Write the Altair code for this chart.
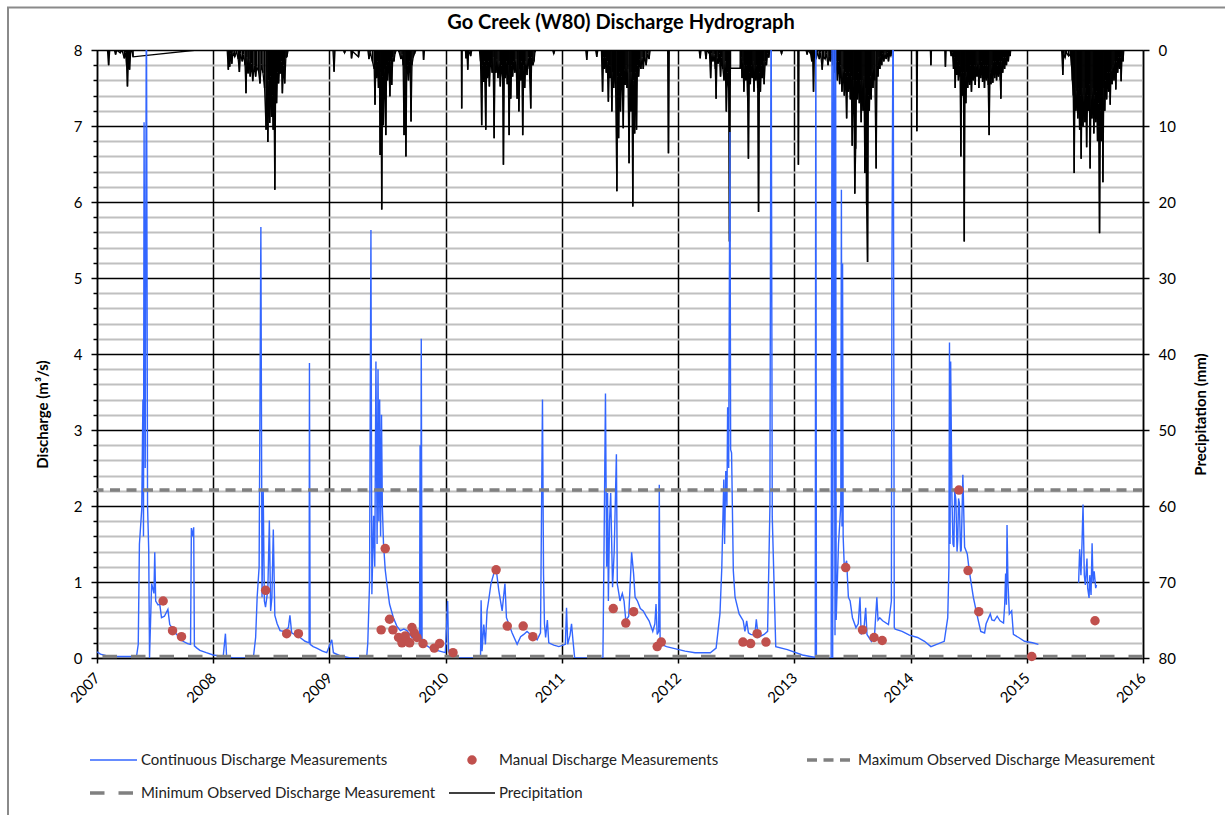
import altair as alt
import pandas as pd

# ---------------------------------------------------------------------------
# Go Creek (W80): continuous logger discharge (decimal year, m3/s).
# Values above 8 run off the top of the discharge axis and are clipped.
# ---------------------------------------------------------------------------
flow_2007 = [
    (2007.000, 0.08), (2007.030, 0.05), (2007.080, 0.03), (2007.150, 0.02), (2007.250, 0.02),
    (2007.340, 0.02), (2007.355, 0.18), (2007.365, 1.50), (2007.385, 1.96), (2007.395, 3.40),
    (2007.400, 1.60), (2007.405, 7.05), (2007.415, 2.50), (2007.425, 9.00), (2007.435, 2.00),
    (2007.445, 1.42), (2007.452, 0.00), (2007.470, 0.98), (2007.490, 0.85), (2007.497, 1.39),
    (2007.505, 0.75), (2007.525, 0.70), (2007.540, 0.71), (2007.555, 0.53), (2007.580, 0.55),
    (2007.610, 0.64), (2007.626, 0.44), (2007.655, 0.38), (2007.684, 0.31), (2007.710, 0.28),
    (2007.740, 0.22), (2007.780, 0.19), (2007.805, 0.18), (2007.812, 1.71), (2007.822, 1.60),
    (2007.832, 1.72), (2007.838, 0.16), (2007.860, 0.13), (2007.885, 0.10), (2007.940, 0.07),
]
flow_2008 = [
    (2008.000, 0.04), (2008.086, 0.02), (2008.105, 0.32), (2008.115, 0.02), (2008.170, 0.00),
    (2008.345, 0.00), (2008.365, 0.27), (2008.378, 0.80), (2008.395, 1.20), (2008.410, 5.67),
    (2008.420, 0.80), (2008.430, 2.22), (2008.440, 0.75), (2008.450, 0.67), (2008.470, 0.90),
    (2008.483, 1.81), (2008.494, 0.62), (2008.505, 0.80), (2008.517, 1.69), (2008.530, 0.56),
    (2008.550, 0.45), (2008.575, 0.36), (2008.610, 0.35), (2008.647, 0.40), (2008.660, 0.56),
    (2008.675, 0.33), (2008.710, 0.30), (2008.747, 0.27), (2008.790, 0.22), (2008.825, 0.20),
    (2008.828, 3.88), (2008.834, 0.18), (2008.860, 0.15), (2008.890, 0.13), (2008.940, 0.09),
    (2008.977, 0.07),
]
flow_2009 = [
    (2009.020, 0.24), (2009.034, 0.07), (2009.090, 0.03), (2009.180, 0.00), (2009.320, 0.00),
    (2009.330, 0.20), (2009.345, 0.98), (2009.357, 5.63), (2009.365, 0.84), (2009.380, 1.87),
    (2009.390, 1.20), (2009.400, 3.90), (2009.410, 1.50), (2009.418, 3.80), (2009.425, 1.80),
    (2009.432, 3.40), (2009.440, 1.60), (2009.448, 3.20), (2009.455, 2.00), (2009.465, 1.51),
    (2009.480, 1.16), (2009.494, 0.98), (2009.517, 0.71), (2009.550, 0.53), (2009.580, 0.42),
    (2009.610, 0.36), (2009.640, 0.38), (2009.667, 0.36), (2009.710, 0.27), (2009.753, 0.24),
    (2009.775, 0.23), (2009.780, 2.80), (2009.785, 0.25), (2009.790, 4.20), (2009.797, 0.22),
    (2009.830, 0.17), (2009.868, 0.13), (2009.925, 0.10), (2009.997, 0.07),
]
flow_2010 = [
    (2010.017, 0.75), (2010.025, 0.09), (2010.070, 0.00), (2010.300, 0.00), (2010.305, 0.76),
    (2010.313, 0.09), (2010.328, 0.44), (2010.342, 0.18), (2010.356, 0.62), (2010.370, 0.76),
    (2010.390, 0.98), (2010.414, 1.11), (2010.434, 1.18), (2010.457, 0.89), (2010.486, 0.62),
    (2010.510, 0.98), (2010.523, 0.53), (2010.550, 0.42), (2010.572, 0.33), (2010.615, 0.18),
    (2010.645, 0.28), (2010.672, 0.31), (2010.700, 0.35), (2010.730, 0.31), (2010.760, 0.28),
    (2010.787, 0.24), (2010.816, 0.33), (2010.833, 3.40), (2010.842, 1.11), (2010.850, 0.45),
    (2010.860, 0.27), (2010.875, 0.50), (2010.887, 0.20), (2010.930, 0.17), (2010.974, 0.15),
]
flow_2011 = [
    (2011.030, 0.18), (2011.040, 0.66), (2011.050, 0.18), (2011.070, 0.30), (2011.083, 0.45),
    (2011.096, 0.22), (2011.110, 0.00), (2011.353, 0.00), (2011.363, 1.50), (2011.375, 3.48),
    (2011.385, 1.20), (2011.393, 2.17), (2011.400, 0.75), (2011.410, 1.80), (2011.420, 2.17),
    (2011.436, 0.93), (2011.450, 1.40), (2011.469, 2.68), (2011.477, 0.97), (2011.490, 0.85),
    (2011.500, 0.75), (2011.520, 0.85), (2011.535, 0.75), (2011.550, 0.49), (2011.575, 0.55),
    (2011.600, 1.39), (2011.617, 1.11), (2011.630, 0.80), (2011.650, 0.75), (2011.675, 0.65),
    (2011.700, 0.62), (2011.725, 0.55), (2011.750, 0.49), (2011.782, 0.35), (2011.800, 0.45),
    (2011.810, 0.71), (2011.820, 0.31), (2011.833, 0.35), (2011.838, 2.28), (2011.845, 0.25),
    (2011.855, 0.18), (2011.900, 0.15), (2011.980, 0.12),
]
flow_2012 = [
    (2012.060, 0.09), (2012.145, 0.07), (2012.277, 0.07), (2012.327, 0.13), (2012.360, 0.58),
    (2012.376, 1.19), (2012.393, 2.35), (2012.400, 1.50), (2012.410, 2.46), (2012.420, 2.00),
    (2012.426, 3.30), (2012.435, 2.50), (2012.446, 6.92), (2012.452, 2.74), (2012.460, 2.70),
    (2012.475, 1.15), (2012.490, 0.80), (2012.525, 0.58), (2012.560, 0.49), (2012.575, 0.35),
    (2012.590, 0.49), (2012.605, 0.33), (2012.624, 0.31), (2012.660, 0.30), (2012.673, 0.51),
    (2012.690, 0.27), (2012.740, 0.31), (2012.770, 0.35), (2012.790, 1.99), (2012.800, 9.00),
    (2012.810, 1.86), (2012.840, 0.15), (2012.940, 0.11),
]
flow_2013 = [
    (2013.070, 0.04), (2013.170, 0.01), (2013.180, 0.00), (2013.185, 9.00), (2013.190, 0.00),
    (2013.317, 0.00), (2013.325, 9.00), (2013.330, 0.00), (2013.340, 9.00), (2013.350, 0.30),
    (2013.355, 9.00), (2013.360, 0.50), (2013.380, 1.50), (2013.400, 2.01), (2013.405, 6.16),
    (2013.410, 1.73), (2013.415, 5.19), (2013.420, 1.60), (2013.430, 1.19), (2013.450, 1.28),
    (2013.465, 0.80), (2013.480, 0.75), (2013.500, 0.53), (2013.530, 0.40), (2013.550, 0.45),
    (2013.565, 0.80), (2013.575, 0.31), (2013.600, 0.40), (2013.614, 0.66), (2013.625, 0.31),
    (2013.663, 0.22), (2013.690, 0.30), (2013.710, 0.80), (2013.720, 0.50), (2013.735, 0.53),
    (2013.760, 0.49), (2013.810, 0.44), (2013.835, 0.75), (2013.840, 5.20), (2013.850, 9.00),
    (2013.860, 0.40), (2013.868, 0.38), (2013.927, 0.35), (2013.990, 0.30),
]
flow_2014 = [
    (2014.060, 0.27), (2014.120, 0.22), (2014.175, 0.15), (2014.225, 0.18), (2014.290, 0.22),
    (2014.320, 0.53), (2014.330, 1.19), (2014.335, 4.15), (2014.340, 1.50), (2014.345, 3.90),
    (2014.356, 2.12), (2014.365, 1.50), (2014.373, 1.46), (2014.380, 2.20), (2014.390, 2.08),
    (2014.400, 1.40), (2014.406, 1.55), (2014.413, 2.10), (2014.420, 2.04), (2014.430, 1.40),
    (2014.436, 1.42), (2014.450, 2.41), (2014.465, 1.46), (2014.488, 1.37), (2014.505, 1.15),
    (2014.540, 0.80), (2014.570, 0.58), (2014.604, 0.35), (2014.637, 0.33), (2014.650, 0.45),
    (2014.686, 0.58), (2014.700, 0.50), (2014.720, 0.49), (2014.745, 0.55), (2014.770, 0.49),
    (2014.800, 0.46), (2014.810, 0.70), (2014.818, 1.11), (2014.825, 0.70), (2014.830, 1.75),
    (2014.838, 1.00), (2014.850, 0.58), (2014.870, 0.62), (2014.885, 0.31), (2014.930, 0.27),
    (2014.980, 0.22), (2015.050, 0.20), (2015.100, 0.18),
]
# logger record after the early-2015 gap
flow_2015 = [
    (2015.446, 0.99), (2015.455, 1.43), (2015.466, 1.09), (2015.475, 1.50), (2015.484, 2.02),
    (2015.495, 1.09), (2015.504, 0.96), (2015.518, 1.31), (2015.524, 0.92), (2015.536, 0.79),
    (2015.542, 1.09), (2015.553, 0.83), (2015.562, 1.51), (2015.570, 0.99), (2015.580, 1.14),
    (2015.593, 0.92), (2015.600, 0.96),
]

# Manual (spot) discharge measurements
manual_year = [
    2007.569, 2007.650, 2007.727, 2008.451, 2008.632, 2008.733, 2009.445, 2009.480, 2009.517,
    2009.546, 2009.595, 2009.624, 2009.652, 2009.672, 2009.690, 2009.710, 2009.730, 2009.753,
    2009.805, 2009.902, 2009.948, 2010.063, 2010.434, 2010.530, 2010.667, 2010.750, 2011.442,
    2011.550, 2011.617, 2011.820, 2011.855, 2012.558, 2012.624, 2012.680, 2012.756, 2013.442,
    2013.587, 2013.686, 2013.756, 2014.416, 2014.495, 2014.587, 2015.043, 2015.587,
]
manual_q = [
    0.75, 0.36, 0.28, 0.89, 0.32, 0.32, 0.37, 1.44, 0.51,
    0.37, 0.27, 0.20, 0.29, 0.22, 0.20, 0.40, 0.33, 0.27,
    0.19, 0.13, 0.19, 0.07, 1.16, 0.42, 0.42, 0.28, 0.65,
    0.46, 0.61, 0.15, 0.21, 0.21, 0.19, 0.32, 0.21, 1.19,
    0.37, 0.27, 0.23, 2.21, 1.15, 0.61, 0.02, 0.49,
]
max_observed = 2.21
min_observed = 0.02

# Daily precipitation (decimal year, mm) on the reversed right-hand axis
rain_2007 = [
    (2007.000, 0), (2007.090, 0), (2007.100, 2.0), (2007.110, 0), (2007.150, 0), (2007.160, 0.6),
    (2007.170, 0), (2007.200, 0.4), (2007.215, 0), (2007.235, 1.1), (2007.245, 0.3), (2007.255, 2.0),
    (2007.262, 4.8), (2007.270, 1.2), (2007.280, 2.6), (2007.290, 0.3), (2007.300, 0), (2007.310, 0.9),
    (2007.860, 0), (2008.120, 0),
]
rain_2008 = [
    (2008.130, 2.6), (2008.135, 0.4), (2008.142, 2.2), (2008.150, 0.5), (2008.160, 1.8), (2008.170, 0.3),
    (2008.185, 0.9), (2008.200, 0.2), (2008.215, 1.2), (2008.225, 2.9), (2008.235, 0.5), (2008.250, 1.5),
    (2008.260, 0.6), (2008.274, 2.0), (2008.282, 5.7), (2008.290, 1.0), (2008.300, 3.1), (2008.308, 1.2),
    (2008.318, 3.5), (2008.328, 1.8), (2008.340, 4.1), (2008.352, 2.0), (2008.365, 3.5), (2008.375, 2.2),
    (2008.390, 2.8), (2008.402, 4.4), (2008.414, 1.9), (2008.428, 3.0), (2008.442, 5.0), (2008.455, 10.5),
    (2008.462, 3.0), (2008.470, 12.1), (2008.478, 4.0), (2008.486, 9.6), (2008.494, 3.5), (2008.502, 8.8),
    (2008.510, 6.0), (2008.516, 10.5), (2008.522, 4.0), (2008.530, 18.4), (2008.537, 5.0), (2008.545, 7.0),
    (2008.553, 3.0), (2008.562, 4.4), (2008.570, 2.5), (2008.578, 3.1), (2008.586, 1.5), (2008.595, 5.7),
    (2008.605, 2.0), (2008.615, 4.4), (2008.625, 1.0), (2008.634, 0.9), (2008.645, 0), (2009.030, 0),
]
rain_2009 = [
    (2009.040, 2.85), (2009.048, 0), (2009.120, 0), (2009.130, 0.4), (2009.140, 0), (2009.185, 0),
    (2009.190, 1.1), (2009.200, 0.2), (2009.250, 0.9), (2009.260, 0), (2009.330, 0), (2009.340, 1.2),
    (2009.350, 0.3), (2009.370, 1.5), (2009.385, 2.5), (2009.392, 7.2), (2009.399, 2.0), (2009.406, 3.7),
    (2009.414, 1.5), (2009.422, 5.0), (2009.430, 2.5), (2009.436, 13.8), (2009.443, 3.0), (2009.450, 21.0),
    (2009.457, 3.5), (2009.464, 9.9), (2009.471, 2.5), (2009.478, 6.0), (2009.485, 11.2), (2009.492, 2.0),
    (2009.500, 4.0), (2009.507, 1.5), (2009.514, 3.0), (2009.520, 6.1), (2009.528, 1.5), (2009.536, 4.6),
    (2009.545, 1.0), (2009.555, 1.5), (2009.564, 0.5), (2009.575, 0), (2009.590, 0), (2009.600, 0.3),
    (2009.615, 1.2), (2009.625, 0.6), (2009.634, 2.0), (2009.642, 11.2), (2009.650, 2.5), (2009.658, 14.0),
    (2009.665, 3.0), (2009.672, 2.0), (2009.680, 4.0), (2009.688, 1.5), (2009.695, 3.0), (2009.702, 9.4),
    (2009.710, 2.0), (2009.720, 1.0), (2009.732, 0.5), (2009.745, 0), (2009.805, 0), (2009.810, 1.3),
    (2009.818, 0), (2010.120, 0),
]
rain_2010 = [
    (2010.135, 0), (2010.138, 7.7), (2010.142, 0), (2010.170, 0), (2010.175, 1.1), (2010.182, 0),
    (2010.190, 2.6), (2010.198, 0), (2010.215, 0.8), (2010.225, 0), (2010.290, 0), (2010.300, 1.5),
    (2010.310, 9.9), (2010.318, 2.0), (2010.326, 4.2), (2010.334, 1.5), (2010.345, 10.5), (2010.352, 2.0),
    (2010.360, 3.7), (2010.368, 1.5), (2010.376, 4.8), (2010.384, 2.0), (2010.392, 1.8), (2010.400, 3.0),
    (2010.408, 1.0), (2010.417, 11.6), (2010.425, 2.0), (2010.433, 3.0), (2010.441, 1.2), (2010.450, 3.7),
    (2010.460, 1.5), (2010.470, 4.8), (2010.480, 2.0), (2010.490, 3.5), (2010.497, 15.1), (2010.505, 2.5),
    (2010.513, 3.7), (2010.521, 1.5), (2010.530, 4.5), (2010.538, 2.0), (2010.546, 11.2), (2010.553, 3.0),
    (2010.560, 6.4), (2010.568, 2.0), (2010.576, 3.5), (2010.585, 1.5), (2010.595, 3.0), (2010.605, 1.2),
    (2010.615, 6.4), (2010.622, 2.0), (2010.630, 8.1), (2010.638, 2.5), (2010.646, 4.0), (2010.655, 1.5),
    (2010.663, 11.2), (2010.672, 2.0), (2010.680, 5.0), (2010.690, 1.5), (2010.700, 3.3), (2010.710, 1.0),
    (2010.720, 2.5), (2010.732, 7.7), (2010.740, 1.0), (2010.750, 2.0), (2010.760, 1.5), (2010.768, 0.3),
    (2010.775, 0), (2010.920, 0), (2010.930, 0.5), (2010.940, 0), (2011.205, 0),
]
rain_2011 = [
    (2011.214, 1.3), (2011.222, 0), (2011.290, 0), (2011.300, 0.9), (2011.310, 0), (2011.340, 0),
    (2011.350, 5.5), (2011.358, 1.0), (2011.366, 2.5), (2011.374, 1.0), (2011.382, 3.0), (2011.390, 1.5),
    (2011.400, 6.8), (2011.408, 2.0), (2011.415, 3.7), (2011.422, 2.0), (2011.430, 8.1), (2011.438, 3.0),
    (2011.446, 5.0), (2011.454, 2.5), (2011.462, 4.5), (2011.473, 18.6), (2011.480, 3.5), (2011.488, 11.6),
    (2011.496, 3.0), (2011.504, 8.1), (2011.512, 3.5), (2011.520, 5.0), (2011.528, 10.3), (2011.536, 2.5),
    (2011.544, 4.6), (2011.552, 2.0), (2011.560, 5.0), (2011.568, 2.5), (2011.578, 14.9), (2011.586, 3.0),
    (2011.594, 8.1), (2011.602, 3.0), (2011.610, 20.6), (2011.618, 4.0), (2011.626, 11.0), (2011.634, 3.0),
    (2011.642, 10.5), (2011.650, 2.0), (2011.660, 3.5), (2011.670, 1.2), (2011.680, 2.5), (2011.690, 1.0),
    (2011.700, 2.5), (2011.712, 0.8), (2011.725, 2.0), (2011.738, 0.5), (2011.750, 1.2), (2011.760, 0),
    (2011.910, 0), (2011.917, 13.6), (2011.924, 0), (2012.180, 0),
]
rain_2012 = [
    (2012.190, 1.1), (2012.198, 0), (2012.230, 0), (2012.240, 1.2), (2012.250, 0), (2012.270, 0.5),
    (2012.280, 3.7), (2012.290, 0.5), (2012.300, 1.5), (2012.310, 0.6), (2012.320, 2.5), (2012.327, 6.4),
    (2012.335, 1.0), (2012.345, 1.8), (2012.355, 0.5), (2012.365, 3.5), (2012.375, 1.0), (2012.385, 2.5),
    (2012.395, 4.0), (2012.405, 1.5), (2012.415, 8.1), (2012.425, 3.0), (2012.435, 5.0), (2012.442, 25.2),
    (2012.450, 2.4), (2012.535, 2.4), (2012.543, 1.0), (2012.550, 3.7), (2012.558, 1.5), (2012.566, 5.5),
    (2012.574, 2.0), (2012.582, 4.0), (2012.590, 2.0), (2012.598, 6.0), (2012.605, 14.3), (2012.613, 3.0),
    (2012.621, 4.5), (2012.629, 2.0), (2012.637, 3.7), (2012.645, 1.5), (2012.653, 5.5), (2012.661, 2.0),
    (2012.669, 4.0), (2012.677, 2.0), (2012.685, 5.0), (2012.692, 21.3), (2012.700, 3.0), (2012.708, 5.5),
    (2012.716, 2.0), (2012.724, 3.7), (2012.732, 1.5), (2012.740, 4.5), (2012.750, 1.5), (2012.760, 2.0),
    (2012.770, 0.5), (2012.780, 1.0), (2012.790, 0), (2012.880, 0), (2012.890, 0.5), (2012.900, 0),
    (2013.030, 0), (2013.035, 15.1), (2013.040, 0),
]
rain_2013 = [
    (2013.100, 0), (2013.110, 0.6), (2013.120, 0), (2013.140, 0.5), (2013.150, 1.5), (2013.158, 0.8),
    (2013.165, 5.5), (2013.172, 1.0), (2013.180, 0.5), (2013.190, 1.0), (2013.200, 0.3), (2013.215, 1.2),
    (2013.225, 0.3), (2013.240, 2.6), (2013.250, 0.8), (2013.265, 1.2), (2013.275, 0.5), (2013.290, 2.0),
    (2013.300, 0.8), (2013.310, 1.5), (2013.320, 0.5), (2013.330, 2.0), (2013.340, 1.0), (2013.350, 3.0),
    (2013.360, 1.5), (2013.370, 4.0), (2013.380, 1.5), (2013.390, 4.5), (2013.400, 2.0), (2013.410, 5.5),
    (2013.420, 2.5), (2013.430, 6.0), (2013.440, 3.0), (2013.450, 9.0), (2013.458, 3.5), (2013.466, 5.5),
    (2013.474, 3.0), (2013.482, 6.5), (2013.490, 3.5), (2013.498, 12.6), (2013.506, 4.0), (2013.513, 8.0),
    (2013.520, 18.9), (2013.528, 13.0), (2013.535, 4.0), (2013.543, 6.5), (2013.551, 3.0), (2013.559, 7.0),
    (2013.567, 4.0), (2013.575, 9.5), (2013.583, 4.0), (2013.591, 8.0), (2013.599, 3.5), (2013.607, 16.2),
    (2013.615, 5.0), (2013.622, 20.4), (2013.630, 27.9), (2013.637, 6.0), (2013.645, 8.0), (2013.653, 3.5),
    (2013.661, 6.5), (2013.669, 2.5), (2013.677, 5.0), (2013.685, 2.0), (2013.693, 4.0), (2013.704, 15.6),
    (2013.712, 2.0), (2013.720, 3.5), (2013.728, 1.0), (2013.736, 2.5), (2013.744, 0.8), (2013.752, 2.0),
    (2013.760, 0.5), (2013.770, 1.5), (2013.780, 0.5), (2013.790, 1.2), (2013.800, 0.3), (2013.810, 1.5),
    (2013.820, 0.5), (2013.830, 0.8), (2013.840, 0), (2014.050, 0), (2014.054, 10.7), (2014.060, 0),
]
rain_2014 = [
    (2014.170, 0), (2014.175, 2.0), (2014.180, 0), (2014.295, 0), (2014.300, 2.2), (2014.306, 0),
    (2014.340, 0), (2014.350, 0.8), (2014.360, 0.3), (2014.370, 2.5), (2014.377, 1.0), (2014.384, 5.0),
    (2014.391, 1.5), (2014.398, 3.3), (2014.405, 1.5), (2014.412, 4.0), (2014.419, 2.0), (2014.426, 3.5),
    (2014.433, 14.0), (2014.440, 3.0), (2014.447, 6.0), (2014.455, 3.0), (2014.462, 25.2), (2014.469, 3.5),
    (2014.476, 7.0), (2014.484, 3.0), (2014.492, 5.0), (2014.500, 2.5), (2014.508, 4.6), (2014.516, 2.0),
    (2014.524, 5.5), (2014.532, 2.5), (2014.540, 4.0), (2014.548, 2.0), (2014.556, 4.6), (2014.564, 2.0),
    (2014.572, 3.5), (2014.580, 1.5), (2014.588, 5.0), (2014.596, 2.0), (2014.604, 3.7), (2014.612, 1.5),
    (2014.620, 4.2), (2014.628, 2.0), (2014.636, 5.0), (2014.644, 2.0), (2014.652, 4.0), (2014.660, 2.0),
    (2014.668, 4.6), (2014.676, 11.2), (2014.684, 3.0), (2014.692, 4.5), (2014.700, 2.0), (2014.708, 4.3),
    (2014.716, 1.5), (2014.724, 3.7), (2014.732, 1.5), (2014.740, 4.0), (2014.748, 2.0), (2014.756, 3.5),
    (2014.764, 1.5), (2014.772, 4.0), (2014.777, 6.4), (2014.785, 1.5), (2014.793, 3.0), (2014.801, 1.0),
    (2014.809, 2.5), (2014.817, 1.0), (2014.825, 2.0), (2014.833, 0.8), (2014.841, 1.5), (2014.849, 0.5),
    (2014.857, 0.8), (2014.862, 0), (2015.300, 0),
]
rain_2015 = [
    (2015.310, 3.3), (2015.318, 0.5), (2015.330, 1.0), (2015.340, 0.3), (2015.360, 0.8), (2015.375, 0.5),
    (2015.385, 2.0), (2015.392, 4.0), (2015.400, 6.0), (2015.408, 16.2), (2015.415, 5.0), (2015.423, 8.0),
    (2015.431, 5.5), (2015.439, 9.0), (2015.447, 5.0), (2015.455, 10.5), (2015.462, 6.0), (2015.468, 14.3),
    (2015.476, 5.0), (2015.484, 10.0), (2015.492, 6.0), (2015.500, 9.5), (2015.508, 5.0), (2015.515, 12.8),
    (2015.523, 6.0), (2015.531, 8.0), (2015.538, 4.5), (2015.545, 15.6), (2015.553, 6.0), (2015.561, 9.0),
    (2015.569, 5.0), (2015.577, 11.0), (2015.585, 6.0), (2015.593, 9.5), (2015.601, 5.5), (2015.609, 12.0),
    (2015.617, 7.0), (2015.626, 24.1), (2015.634, 8.0), (2015.642, 12.0), (2015.650, 6.0), (2015.655, 17.4),
    (2015.663, 5.0), (2015.671, 8.0), (2015.679, 4.0), (2015.687, 6.5), (2015.695, 3.0), (2015.703, 5.5),
    (2015.711, 3.0), (2015.718, 7.2), (2015.726, 2.5), (2015.734, 4.5), (2015.742, 2.0), (2015.750, 4.0),
    (2015.758, 1.5), (2015.766, 5.2), (2015.774, 1.5), (2015.782, 3.0), (2015.790, 1.0), (2015.798, 2.5),
    (2015.806, 1.0), (2015.812, 4.1), (2015.820, 0.8), (2015.828, 1.5), (2015.835, 0),
]

year_ticks = list(range(2007, 2017))
q_ticks = [round(i * 0.2, 1) for i in range(41)]
rain_ticks = list(range(0, 81, 10))

# ---------------------------------------------------------------------------
# Tables
# ---------------------------------------------------------------------------
main_record = (flow_2007 + flow_2008 + flow_2009 + flow_2010 + flow_2011
               + flow_2012 + flow_2013 + flow_2014)
flow = pd.concat([
    pd.DataFrame(main_record, columns=["t", "q"]).assign(seg="a"),
    pd.DataFrame(flow_2015, columns=["t", "q"]).assign(seg="b"),
])
manual = pd.DataFrame({"t": manual_year, "q": manual_q})
limits = pd.DataFrame({"q": [max_observed, min_observed], "kind": ["max", "min"]})
rain = pd.DataFrame(rain_2007 + rain_2008 + rain_2009 + rain_2010 + rain_2011
                    + rain_2012 + rain_2013 + rain_2014 + rain_2015, columns=["t", "mm"])
one = pd.DataFrame({"k": [0]})

FONT = "Lato"
BLUE = "#3366ff"
RED = "#c0504d"
GREY = "#808080"
W, H = 1046, 608

major = "abs(datum.value - round(datum.value)) < 0.001"

x_enc = alt.X(
    "t:Q",
    scale=alt.Scale(domain=[2007, 2016], nice=False, zero=False),
    axis=alt.Axis(
        values=year_ticks, format="d", title=None,
        labelAngle=315, labelAlign="right", labelBaseline="middle",
        labelFont=FONT, labelFontSize=15, labelColor="black", labelPadding=12,
        labelOverlap=False, labelFlush=False,
        tickSize=5, tickColor="black", tickWidth=1.5,
        domainColor="black", domainWidth=1.5,
        grid=True, gridColor="black", gridWidth=1.5,
    ),
)

q_enc = alt.Y(
    "q:Q",
    scale=alt.Scale(domain=[0, 8], nice=False),
    axis=alt.Axis(
        values=q_ticks, title="Discharge (m³/s)",
        titleFont=FONT, titleFontSize=15, titleFontWeight="bold", titleColor="black",
        titleAngle=270, titleAlign="center", titleBaseline="middle",
        titleX=-55, titleY=364,
        labelExpr=f"{major} ? format(datum.value, 'd') : ''",
        labelFont=FONT, labelFontSize=15, labelColor="black", labelPadding=9,
        labelOverlap=False, labelFlush=False,
        tickColor="black", tickWidth=1.5,
        tickSize={"condition": {"test": major, "value": 6}, "value": 4},
        domainColor="black", domainWidth=1.5,
        grid=True,
        gridColor={"condition": {"test": major, "value": "black"}, "value": "#c0c0c0"},
        gridWidth={"condition": {"test": major, "value": 1.5}, "value": 2},
    ),
)

rain_enc = alt.Y(
    "mm:Q",
    scale=alt.Scale(domain=[0, 80], reverse=True, nice=False),
    axis=alt.Axis(
        orient="right", values=rain_ticks, title="Precipitation (mm)",
        titleFont=FONT, titleFontSize=15, titleFontWeight="bold", titleColor="black",
        titleAngle=270, titleAlign="center", titleBaseline="middle",
        titleX=57, titleY=364,
        labelFont=FONT, labelFontSize=15, labelColor="black", labelPadding=9,
        labelOverlap=False, labelFlush=False,
        tickSize=6, tickColor="black", tickWidth=1.5,
        domainColor="black", domainWidth=1.5, grid=False,
    ),
)

# ---------------------------------------------------------------------------
# Plot layers
# ---------------------------------------------------------------------------
# daily totals hang down from the top axis; the connecting line carries the
# series through gaps in the record
rain_bars = alt.Chart(rain).mark_rule(color="black", strokeWidth=1.6, clip=True).encode(
    x=x_enc, y=rain_enc, y2=alt.datum(0)
)
rain_line = alt.Chart(rain).mark_line(color="black", strokeWidth=1.3, clip=True).encode(
    x=x_enc, y=rain_enc
)

flow_line = alt.Chart(flow).mark_line(color=BLUE, strokeWidth=1.4, clip=True).encode(
    x=x_enc, y=q_enc, detail="seg:N"
)
max_rule = alt.Chart(limits[limits.kind == "max"]).mark_rule(
    color=GREY, strokeWidth=3.5, strokeDash=[10, 6.5]
).encode(y=q_enc)
min_rule = alt.Chart(limits[limits.kind == "min"]).mark_rule(
    color=GREY, strokeWidth=3.5, strokeDash=[14.5, 14]
).encode(y=q_enc)
manual_pts = alt.Chart(manual).mark_circle(color=RED, opacity=1, size=90).encode(
    x=x_enc, y=q_enc
)
discharge = alt.layer(flow_line, max_rule, min_rule, manual_pts)
precip = alt.layer(rain_bars, rain_line)

# Outer frame of the figure and its heading
frame = alt.Chart(one).mark_rect(
    fillOpacity=0, stroke="#8a8a8a", strokeWidth=2
).encode(x=alt.value(-89), x2=alt.value(1140), y=alt.value(-42.5), y2=alt.value(775))
heading = alt.Chart(one).mark_text(
    align="center", baseline="middle", font=FONT, fontSize=20, fontWeight="bold", color="black"
).encode(x=alt.value(524), y=alt.value(-27), text=alt.value("Go Creek (W80) Discharge Hydrograph"))

# ---------------------------------------------------------------------------
# Legend (two rows below the x axis)
# ---------------------------------------------------------------------------
ROW1, ROW2 = 710, 743


def legend_text(label, x, y):
    return alt.Chart(one).mark_text(
        align="left", baseline="middle", font=FONT, fontSize=15, color="#222222"
    ).encode(x=alt.value(x), y=alt.value(y), text=alt.value(label))


legend = [
    alt.Chart(one).mark_rule(color=BLUE, strokeWidth=1.5).encode(
        x=alt.value(-7), x2=alt.value(40), y=alt.value(ROW1)),
    legend_text("Continuous Discharge Measurements", 44, ROW1),
    alt.Chart(one).mark_circle(color=RED, opacity=1, size=90).encode(
        x=alt.value(375), y=alt.value(ROW1)),
    legend_text("Manual Discharge Measurements", 402, ROW1),
    alt.Chart(one).mark_rule(color=GREY, strokeWidth=3.5, strokeDash=[10, 6.5]).encode(
        x=alt.value(710), x2=alt.value(753), y=alt.value(ROW1)),
    legend_text("Maximum Observed Discharge Measurement", 761, ROW1),
    alt.Chart(one).mark_rule(color=GREY, strokeWidth=3.5, strokeDash=[14.5, 14]).encode(
        x=alt.value(-7), x2=alt.value(36), y=alt.value(ROW2)),
    legend_text("Minimum Observed Discharge Measurement", 44, ROW2),
    alt.Chart(one).mark_rule(color="black", strokeWidth=1.5).encode(
        x=alt.value(352), x2=alt.value(398), y=alt.value(ROW2)),
    legend_text("Precipitation", 402, ROW2),
]

chart = alt.layer(frame, heading, precip, discharge, *legend).resolve_scale(
    y="independent"
).properties(
    width=W,
    height=H,
    autosize=alt.AutoSizeParams(type="none"),
    padding={"left": 97, "top": 50, "right": 82, "bottom": 157},
).configure_view(strokeWidth=0).configure(background="white")

chart.save("out.html", embed_options={"renderer": "svg", "actions": False})
